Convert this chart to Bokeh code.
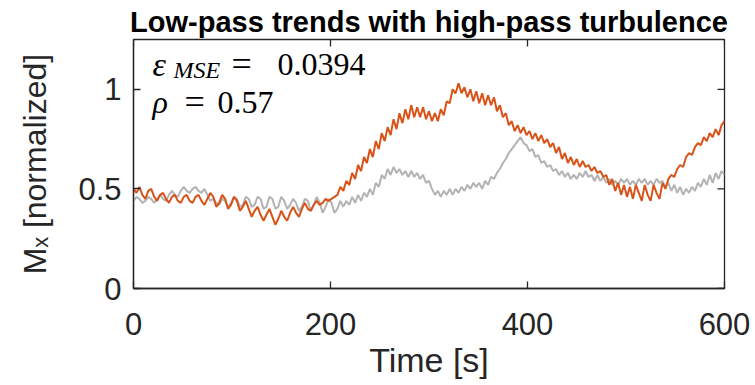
import numpy as np
from bokeh.plotting import figure
from bokeh.models import Label, FixedTicker, NumeralTickFormatter, Range1d
from bokeh.embed import file_html
from bokeh.resources import INLINE

# sampling grid of the two magnetisation traces [s]
time_s = np.arange(0, 601, 3)

# measured M_x (grey)
mx_measured = [
    0.44, 0.46, 0.45, 0.43, 0.44, 0.46, 0.45, 0.43, 0.45, 0.47,
    0.45, 0.44, 0.47, 0.49, 0.47, 0.46, 0.49, 0.51, 0.49, 0.48,
    0.50, 0.51, 0.49, 0.48, 0.50, 0.47, 0.44, 0.45, 0.43, 0.42,
    0.45, 0.44, 0.41, 0.43, 0.46, 0.45, 0.41, 0.42, 0.46, 0.45,
    0.41, 0.42, 0.46, 0.45, 0.40, 0.41, 0.46, 0.45, 0.40, 0.41,
    0.46, 0.44, 0.40, 0.42, 0.45, 0.43, 0.39, 0.41, 0.45, 0.44,
    0.39, 0.42, 0.46, 0.43, 0.38, 0.41, 0.45, 0.43, 0.38, 0.40,
    0.44, 0.41, 0.44, 0.42, 0.46, 0.43, 0.47, 0.44, 0.48, 0.46,
    0.50, 0.47, 0.53, 0.51, 0.57, 0.55, 0.60, 0.57, 0.61, 0.58,
    0.60, 0.57, 0.59, 0.56, 0.59, 0.56, 0.58, 0.55, 0.57, 0.53,
    0.54, 0.50, 0.47, 0.49, 0.46, 0.49, 0.47, 0.50, 0.47, 0.50,
    0.48, 0.51, 0.49, 0.52, 0.50, 0.53, 0.51, 0.53, 0.50, 0.54,
    0.52, 0.56, 0.55, 0.58, 0.60, 0.63, 0.65, 0.68, 0.70, 0.72,
    0.74, 0.76, 0.73, 0.72, 0.69, 0.70, 0.66, 0.67, 0.63, 0.64,
    0.61, 0.62, 0.59, 0.60, 0.57, 0.59, 0.56, 0.58, 0.55, 0.57,
    0.55, 0.58, 0.56, 0.59, 0.56, 0.57, 0.54, 0.57, 0.54, 0.56,
    0.53, 0.55, 0.52, 0.54, 0.52, 0.55, 0.53, 0.55, 0.52, 0.54,
    0.52, 0.55, 0.53, 0.55, 0.52, 0.54, 0.52, 0.55, 0.53, 0.54,
    0.51, 0.53, 0.49, 0.52, 0.48, 0.51, 0.47, 0.50, 0.48, 0.51,
    0.49, 0.53, 0.51, 0.55, 0.52, 0.57, 0.53, 0.58, 0.55, 0.59,
    0.57,
]

# synthetic M_x: low-pass trend plus high-pass turbulence (orange)
mx_synthetic = [
    0.50, 0.48, 0.51, 0.47, 0.45, 0.49, 0.50, 0.46, 0.44, 0.47,
    0.48, 0.45, 0.43, 0.46, 0.47, 0.44, 0.43, 0.46, 0.47, 0.44,
    0.43, 0.46, 0.47, 0.44, 0.42, 0.45, 0.48, 0.46, 0.41, 0.43,
    0.47, 0.45, 0.40, 0.42, 0.46, 0.44, 0.39, 0.41, 0.44, 0.40,
    0.36, 0.39, 0.41, 0.37, 0.34, 0.37, 0.40, 0.36, 0.32, 0.35,
    0.39, 0.36, 0.34, 0.38, 0.41, 0.38, 0.36, 0.40, 0.43, 0.40,
    0.39, 0.42, 0.44, 0.42, 0.43, 0.45, 0.44, 0.45, 0.46, 0.47,
    0.51, 0.49, 0.54, 0.52, 0.58, 0.55, 0.62, 0.59, 0.66, 0.63,
    0.70, 0.66, 0.74, 0.70, 0.78, 0.74, 0.81, 0.77, 0.85, 0.80,
    0.88, 0.83, 0.90, 0.85, 0.92, 0.86, 0.91, 0.86, 0.91, 0.85,
    0.89, 0.84, 0.88, 0.84, 0.90, 0.87, 0.94, 0.93, 1.00, 0.98,
    1.03, 0.98, 1.01, 0.96, 1.00, 0.94, 0.99, 0.93, 0.98, 0.92,
    0.97, 0.92, 0.96, 0.89, 0.92, 0.86, 0.88, 0.82, 0.84, 0.79,
    0.82, 0.78, 0.81, 0.77, 0.79, 0.75, 0.78, 0.74, 0.77, 0.73,
    0.75, 0.71, 0.73, 0.68, 0.71, 0.65, 0.68, 0.63, 0.66, 0.62,
    0.65, 0.61, 0.64, 0.61, 0.62, 0.59, 0.61, 0.58, 0.59, 0.56,
    0.57, 0.52, 0.55, 0.49, 0.53, 0.47, 0.52, 0.46, 0.51, 0.45,
    0.52, 0.48, 0.44, 0.52, 0.47, 0.44, 0.52, 0.48, 0.45, 0.53,
    0.50, 0.55, 0.57, 0.56, 0.60, 0.62, 0.61, 0.66, 0.68, 0.67,
    0.71, 0.73, 0.72, 0.76, 0.74, 0.78, 0.76, 0.80, 0.77, 0.82,
    0.84,
]

x_ticks = [0, 200, 400, 600]
y_ticks = [0, 0.5, 1]
X_MAX, Y_MAX = 600, 1.25
eps_mse = "0.0394"
rho_value = "0.57"

AXIS_COLOR = "#262626"
SANS = "Liberation Sans"
SERIF = "Liberation Serif"

p = figure(
    width=755, height=385,
    x_range=Range1d(0, X_MAX), y_range=Range1d(0, Y_MAX),
    output_backend="svg", toolbar_location=None,
    min_border_left=133, min_border_right=31,
    min_border_top=39, min_border_bottom=97,
)
p.grid.visible = False
p.background_fill_color = "white"
p.border_fill_color = "white"
p.outline_line_color = AXIS_COLOR
p.outline_line_width = 1.3

# title
p.title.text = "Low-pass trends with high-pass turbulence"
p.title.align = "center"
p.title.text_font = SANS
p.title.text_font_style = "bold"
p.title.text_font_size = "29px"
p.title.text_color = "black"
p.title.standoff = 3

p.line(time_s, mx_measured, line_color="#B3B3B3", line_width=2)
p.line(time_s, mx_synthetic, line_color="#D95319", line_width=2)


def style_axis(ax, ticks):
    ax.ticker = FixedTicker(ticks=ticks)
    ax.major_tick_in = 7
    ax.major_tick_out = 0
    ax.minor_tick_line_color = None
    ax.axis_line_color = AXIS_COLOR
    ax.axis_line_width = 1.3
    ax.major_tick_line_color = AXIS_COLOR
    ax.major_tick_line_width = 1.3
    ax.major_label_text_font = SANS
    ax.major_label_text_color = AXIS_COLOR
    ax.major_label_text_font_size = "31px"
    ax.axis_label_text_font = SANS
    ax.axis_label_text_font_style = "normal"
    ax.axis_label_text_color = AXIS_COLOR


xa = p.xaxis[0]
style_axis(xa, x_ticks)
xa.major_label_standoff = 24
xa.axis_label = "Time [s]"
xa.axis_label_text_font_size = "34px"
xa.axis_label_standoff = 3

ya = p.yaxis[0]
style_axis(ya, y_ticks)
ya.major_label_standoff = 12
ya.formatter = NumeralTickFormatter(format="0.[0]")
ya.axis_label = "Mₓ [normalized]"
ya.axis_label_text_font_size = "32px"
ya.axis_label_standoff = 22

# inward ticks on the top and right edges of the box
p.scatter(x=x_ticks, y=[Y_MAX] * len(x_ticks), marker="dash", angle=np.pi / 2,
          size=14, line_color=AXIS_COLOR, line_width=1.3)
p.scatter(x=[X_MAX] * len(y_ticks), y=y_ticks, marker="dash",
          size=14, line_color=AXIS_COLOR, line_width=1.3)

# error metrics
math = dict(text_align="left", text_baseline="alphabetic", text_font=SERIF,
            text_color="black")
row1, row2 = 1.126, 0.934
p.add_layout(Label(x=19.3, y=row1, text="ε", text_font_size="34px",
                   text_font_style="italic", **math))
p.add_layout(Label(x=40.6, y=row1 - 0.028, text="MSE", text_font_size="24px",
                   text_font_style="italic", **math))
p.add_layout(Label(x=99.5, y=row1, text="=", text_font_size="36px", **math))
p.add_layout(Label(x=146.2, y=row1, text=eps_mse, text_font_size="32px", **math))
p.add_layout(Label(x=19.3, y=row2, text="ρ", text_font_size="32px",
                   text_font_style="italic", **math))
p.add_layout(Label(x=51.8, y=row2, text="=", text_font_size="36px", **math))
p.add_layout(Label(x=85.3, y=row2, text=rho_value, text_font_size="32px", **math))

with open("out.html", "w") as f:
    f.write(file_html(p, INLINE))
